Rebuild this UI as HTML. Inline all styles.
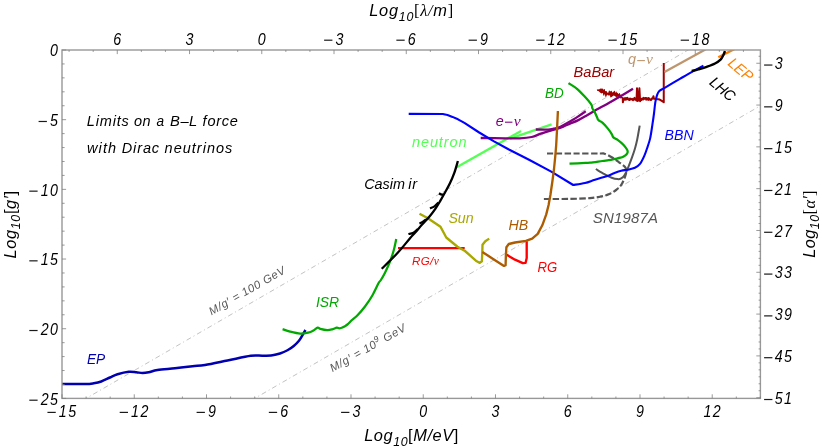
<!DOCTYPE html>
<html><head><meta charset="utf-8"><title>Limits on a B-L force</title>
<style>
html,body{margin:0;padding:0;background:#fff;}
body{width:822px;height:448px;overflow:hidden;font-family:"Liberation Sans",sans-serif;}
svg{display:block;will-change:transform;}
text{font-family:"Liberation Sans",sans-serif;}
</style></head><body>
<svg width="822" height="448" viewBox="0 0 822 448">
<rect x="0" y="0" width="822" height="448" fill="#fff"/>
<defs><clipPath id="fr"><rect x="62.0" y="50.0" width="698.4" height="348.4"/></clipPath></defs>

<g clip-path="url(#fr)">
<line x1="62.00" y1="412.34" x2="712.23" y2="36.06" stroke="#909090" stroke-width="0.55" stroke-dasharray="5 3 1 3"/>
<line x1="230.58" y1="412.34" x2="784.48" y2="91.81" stroke="#909090" stroke-width="0.55" stroke-dasharray="5 3 1 3"/>
<path d="M61.50,384.00 C65.42,384.00 79.62,384.12 85.00,384.00 C90.38,383.88 91.04,383.67 93.75,383.25 C96.46,382.83 98.54,382.46 101.25,381.50 C103.96,380.54 107.29,378.71 110.00,377.50 C112.71,376.29 114.38,375.21 117.50,374.25 C120.62,373.29 125.62,372.08 128.75,371.75 C131.88,371.42 133.96,372.04 136.25,372.25 C138.54,372.46 140.42,373.00 142.50,373.00 C144.58,373.00 146.25,372.75 148.75,372.25 C151.25,371.75 153.12,370.67 157.50,370.00 C161.88,369.33 169.17,368.88 175.00,368.25 C180.83,367.62 187.50,366.79 192.50,366.25 C197.50,365.71 199.17,365.96 205.00,365.00 C210.83,364.04 219.88,362.04 227.50,360.50 C235.12,358.96 244.92,356.54 250.75,355.75 C256.58,354.96 258.88,355.83 262.50,355.75 C266.12,355.67 269.58,355.62 272.50,355.25 C275.42,354.88 277.50,354.33 280.00,353.50 C282.50,352.67 285.21,351.50 287.50,350.25 C289.79,349.00 291.88,347.54 293.75,346.00 C295.62,344.46 297.38,342.67 298.75,341.00 C300.12,339.33 300.88,337.83 302.00,336.00 C303.12,334.17 304.92,331.00 305.50,330.00" fill="none" stroke="#0000B0" stroke-width="2.5" stroke-linejoin="round" stroke-linecap="butt" />
<path d="M282.60,329.10 C283.85,329.52 287.17,330.85 290.10,331.60 C293.03,332.35 297.18,333.43 300.20,333.60 C303.22,333.77 306.03,333.10 308.20,332.60 C310.37,332.10 311.62,331.43 313.20,330.60 C314.78,329.77 316.52,327.88 317.70,327.60 C318.88,327.32 318.70,328.48 320.30,328.90 C321.90,329.32 325.30,330.03 327.30,330.10 C329.30,330.17 330.72,329.72 332.30,329.30 C333.88,328.88 335.63,327.77 336.80,327.60 C337.97,327.43 338.37,328.30 339.30,328.30 C340.23,328.30 341.05,328.23 342.40,327.60 C343.75,326.97 345.80,325.77 347.40,324.50 C349.00,323.23 350.32,321.54 352.00,320.00 C353.68,318.46 355.33,317.50 357.50,315.25 C359.67,313.00 362.50,309.83 365.00,306.50 C367.50,303.17 370.21,299.21 372.50,295.25 C374.79,291.29 377.38,285.25 378.75,282.75 C380.12,280.25 379.71,281.92 380.75,280.25 C381.79,278.58 383.46,275.88 385.00,272.75 C386.54,269.62 388.54,265.25 390.00,261.50 C391.46,257.75 392.71,254.00 393.75,250.25 C394.79,246.50 395.83,240.88 396.25,239.00" fill="none" stroke="#00A800" stroke-width="2.25" stroke-linejoin="round" stroke-linecap="butt" />
<path d="M398.00,248.10 L464.70,248.10" fill="none" stroke="#FF0000" stroke-width="2.2" stroke-linejoin="round" stroke-linecap="butt" />
<path d="M419.50,213.75 L427.50,218.00 L440.50,226.75 L446.25,237.50 L457.50,246.75 L465.00,251.00 L476.70,261.30 L479.80,262.90 L481.90,261.30 L482.30,252.00 L482.50,244.80 L485.30,241.25 L489.20,238.60" fill="none" stroke="#A8A800" stroke-width="2.35" stroke-linejoin="round" stroke-linecap="butt" />
<path d="M505.80,254.20 L515.00,259.70 L522.80,263.10 L525.60,262.80 L526.70,258.10 L526.70,241.25" fill="none" stroke="#FF0000" stroke-width="2.35" stroke-linejoin="round" stroke-linecap="butt" />
<path d="M456.25,167.50 L521.00,130.90" fill="none" stroke="#55FF55" stroke-width="2.3" stroke-linejoin="round" stroke-linecap="butt" />
<path d="M510.00,138.60 L551.60,124.30" fill="none" stroke="#55FF55" stroke-width="2.3" stroke-linejoin="round" stroke-linecap="butt" />
<path d="M597.30,89.49 L597.80,90.33 L598.30,89.84 L598.80,90.70 L599.30,89.84 L599.80,91.61 L600.30,89.10 L600.80,92.43 L601.30,89.04 L601.80,92.85 L602.30,89.10 L602.80,92.49 L603.30,90.21 L603.80,95.00 L604.30,89.73 L604.80,93.69 L605.30,91.54 L605.80,96.17 L606.30,91.74 L606.80,94.85 L607.30,93.13 L607.80,94.08 L608.30,93.04 L608.80,95.01 L609.30,91.23 L609.80,94.67 L610.30,91.77 L610.80,96.80 L611.30,91.48 L611.80,96.25 L612.30,92.89 L612.80,95.73 L613.30,92.69 L613.80,94.90 L614.30,91.32 L614.80,95.40 L615.30,93.22 L615.80,96.18 L616.30,92.55 L616.80,96.76 L617.30,93.32 L617.80,96.18 L618.30,94.53 L618.80,97.28 L619.30,93.64 L619.80,97.17 L620.30,95.02 L620.80,97.96 L621.30,96.17 L621.80,97.46 L622.30,97.17" fill="none" stroke="#A00000" stroke-width="1.25" stroke-linejoin="round" stroke-linecap="butt" />
<path d="M622.30,97.17 L622.70,98.00 L622.90,102.30 L623.40,99.00 L624.50,99.60 L625.00,98.01 L625.50,98.79 L626.00,99.67 L626.50,98.10 L627.00,98.97 L627.50,97.80 L628.00,99.44 L628.50,99.69 L629.00,99.19 L629.50,99.98 L630.00,98.52 L630.50,99.51 L631.00,99.25 L631.50,99.21 L632.00,98.89 L632.50,99.88 L633.00,100.16 L633.50,98.93 L634.00,99.43 L634.50,97.86 L635.00,99.52 L635.50,99.38 L636.50,100.60 L637.00,88.30 L637.70,101.00 L638.60,99.00 L639.40,88.30 L640.10,101.20 L640.70,99.00 L641.20,100.18 L641.70,99.77 L642.20,98.48 L642.70,98.73 L643.20,99.40 L643.70,97.85 L644.20,98.91 L644.70,98.20 L645.20,98.08 L645.70,97.94 L646.20,99.64 L646.70,98.11 L647.20,98.39 L647.70,98.74 L648.20,99.89 L648.70,97.99 L649.20,98.88 L649.70,99.12 L650.20,99.92 L650.70,99.77 L651.20,99.87 L651.70,98.47 L652.20,98.80 L652.70,98.66 L653.40,96.20 L654.00,98.80 L656.25,98.90 L659.70,99.60 L662.20,101.20 L663.75,102.30 L663.75,63.00" fill="none" stroke="#A00000" stroke-width="2.0" stroke-linejoin="round" stroke-linecap="butt" />
<path d="M480.70,138.00 C484.75,138.05 498.45,138.25 505.00,138.30 C511.55,138.35 515.55,138.52 520.00,138.30 C524.45,138.08 528.37,137.73 531.70,137.00 C535.03,136.27 537.28,134.85 540.00,133.90 C542.72,132.95 545.22,132.13 548.00,131.30 C550.78,130.47 554.15,129.68 556.70,128.90 C559.25,128.12 561.08,127.47 563.30,126.60 C565.52,125.73 567.50,124.78 570.00,123.70 C572.50,122.62 575.52,121.48 578.30,120.10 C581.08,118.72 583.63,117.17 586.70,115.40 C589.77,113.63 593.37,111.37 596.70,109.50 C600.03,107.63 602.82,106.37 606.70,104.20 C610.58,102.03 615.62,99.08 620.00,96.50 C624.38,93.92 630.83,90.04 633.00,88.75" fill="none" stroke="#800080" stroke-width="2.3" stroke-linejoin="round" stroke-linecap="butt" />
<path d="M535.80,129.50 C537.00,129.52 540.63,129.62 543.00,129.60 C545.37,129.58 547.45,129.73 550.00,129.40 C552.55,129.07 555.80,128.47 558.30,127.60 C560.80,126.73 562.77,125.40 565.00,124.20 C567.23,123.00 569.48,121.70 571.70,120.40 C573.92,119.10 575.95,117.92 578.30,116.40 C580.65,114.88 584.55,112.15 585.80,111.30" fill="none" stroke="#800080" stroke-width="2.3" stroke-linejoin="round" stroke-linecap="butt" />
<path d="M568.50,83.10 C569.92,84.05 574.18,86.43 577.00,88.80 C579.82,91.17 583.12,94.83 585.40,97.30 C587.68,99.77 589.60,102.12 590.70,103.60 C591.80,105.08 591.72,105.40 592.00,106.20 C592.28,107.00 591.90,107.32 592.40,108.40 C592.90,109.48 594.22,111.20 595.00,112.70 C595.78,114.20 596.60,116.25 597.10,117.40 C597.60,118.55 597.62,119.03 598.00,119.60 C598.38,120.17 598.67,120.28 599.40,120.80 C600.13,121.32 601.02,121.43 602.40,122.70 C603.78,123.97 606.12,126.47 607.70,128.40 C609.28,130.33 611.05,132.93 611.90,134.30 C612.75,135.67 612.42,135.98 612.80,136.60 C613.18,137.22 613.28,137.38 614.20,138.00 C615.12,138.62 616.73,139.15 618.30,140.30 C619.87,141.45 622.15,143.37 623.60,144.90 C625.05,146.43 626.32,148.35 627.00,149.50 C627.68,150.65 627.77,151.02 627.70,151.80 C627.63,152.58 627.28,153.43 626.60,154.20 C625.92,154.97 624.63,155.82 623.60,156.40 C622.57,156.98 621.82,157.28 620.40,157.70 C618.98,158.12 617.03,158.48 615.10,158.90 C613.17,159.32 610.92,159.85 608.80,160.20 C606.68,160.55 605.53,160.58 602.40,161.00 C599.27,161.42 592.83,162.38 590.00,162.70 C587.17,163.02 588.82,162.73 585.40,162.90 C581.98,163.07 572.15,163.57 569.50,163.70" fill="none" stroke="#00A800" stroke-width="2.25" stroke-linejoin="round" stroke-linecap="butt" />
<path d="M639.70,125.60 C639.27,128.00 637.90,136.15 637.10,140.00 C636.30,143.85 635.75,145.80 634.90,148.70 C634.05,151.60 633.08,154.38 632.00,157.40 C630.92,160.42 629.60,163.90 628.40,166.80 C627.20,169.70 626.00,172.87 624.80,174.80 C623.60,176.73 622.42,177.68 621.20,178.40 C619.98,179.12 619.08,179.22 617.50,179.10 C615.92,178.98 613.87,178.53 611.70,177.70 C609.53,176.87 607.15,175.55 604.50,174.10 C601.85,172.65 597.25,169.85 595.80,169.00" fill="none" stroke="#555555" stroke-width="2.0" stroke-linejoin="round" stroke-linecap="butt" />
<path d="M547.00,153.50 C551.67,153.50 566.17,153.50 575.00,153.50 C583.83,153.50 595.08,153.47 600.00,153.50 C604.92,153.53 602.55,153.08 604.50,153.70 C606.45,154.32 609.28,155.77 611.70,157.20 C614.12,158.63 616.82,160.70 619.00,162.30 C621.18,163.90 623.57,165.43 624.80,166.80 C626.03,168.17 626.27,169.13 626.40,170.50 C626.53,171.87 625.98,173.57 625.60,175.00 C625.22,176.43 624.83,177.45 624.10,179.10 C623.37,180.75 622.53,183.08 621.20,184.90 C619.87,186.72 618.17,188.43 616.10,190.00 C614.03,191.57 611.47,193.18 608.80,194.30 C606.13,195.42 603.23,196.07 600.10,196.70 C596.97,197.33 595.02,197.73 590.00,198.10 C584.98,198.47 577.79,198.75 570.00,198.90 C562.21,199.05 547.71,198.98 543.25,199.00" fill="none" stroke="#555555" stroke-width="2.2" stroke-linejoin="round" stroke-linecap="butt" stroke-dasharray="6.3 2.5"/>
<path d="M408.70,113.90 L442.80,114.00 L447.50,115.00 L452.50,116.90 L458.00,119.30 L464.40,122.80 L479.20,132.50 L494.00,141.40 L508.90,149.50 L530.00,160.30 L551.25,171.60 L573.20,185.00  C575.17,184.67 581.37,183.88 585.00,183.00 C588.63,182.12 590.92,181.00 595.00,179.70 C599.08,178.40 606.33,176.28 609.50,175.20 C612.67,174.12 612.05,173.95 614.00,173.20 C615.95,172.45 618.92,171.28 621.20,170.70 C623.48,170.12 625.42,170.18 627.70,169.70 C629.98,169.22 632.85,168.77 634.90,167.80 C636.95,166.83 638.43,165.88 640.00,163.90 C641.57,161.92 643.03,158.75 644.30,155.90 C645.57,153.05 646.62,149.77 647.60,146.80 C648.58,143.83 649.40,141.78 650.20,138.10 C651.00,134.42 651.77,128.80 652.40,124.70 C653.03,120.60 653.52,117.23 654.00,113.50 C654.48,109.77 654.82,105.28 655.30,102.30 C655.78,99.32 656.27,97.45 656.90,95.60 C657.53,93.75 657.80,92.50 659.10,91.20 C660.40,89.90 661.17,89.90 664.70,87.80 C668.23,85.70 675.75,81.27 680.30,78.60 C684.85,75.93 688.15,73.97 692.00,71.80 C695.85,69.63 701.50,66.63 703.40,65.60" fill="none" stroke="#0000FF" stroke-width="2.1" stroke-linejoin="round"/>
<path d="M482.30,251.90 L493.10,258.90 L504.00,265.90 L505.60,265.20 L505.90,255.00 L506.40,247.20 L508.75,244.00 L515.00,242.50 L525.90,240.90 L532.20,238.60 L537.70,233.90 L542.30,225.30 L546.25,214.40 L548.60,205.00 L550.40,195.00 L552.30,182.00 L553.90,170.00 L555.20,157.00 L556.20,145.00 L557.00,130.00 L557.90,111.00" fill="none" stroke="#AD5C00" stroke-width="2.35" stroke-linejoin="round" stroke-linecap="butt" />
<path d="M664.50,72.00 L705.80,49.30" fill="none" stroke="#BE966E" stroke-width="2.3" stroke-linejoin="round" stroke-linecap="butt" />
<path d="M718.30,57.30 L734.20,49.30" fill="none" stroke="#FF8000" stroke-width="2.4" stroke-linejoin="round" stroke-linecap="butt" />
<path d="M691.70,71.00 C692.80,70.72 695.80,70.00 698.30,69.30 C700.80,68.60 703.92,67.77 706.70,66.80 C709.48,65.83 712.65,64.75 715.00,63.50 C717.35,62.25 719.42,60.68 720.80,59.30 C722.18,57.92 722.60,56.58 723.30,55.20 C724.00,53.82 724.72,51.70 725.00,51.00" fill="none" stroke="#000" stroke-width="2.4" stroke-linejoin="round" stroke-linecap="butt" />
<path d="M381.70,268.80 C384.33,266.17 392.78,258.08 397.50,253.00 C402.22,247.92 407.08,241.67 410.00,238.30 C412.92,234.93 412.98,235.08 415.00,232.80 C417.02,230.52 419.72,227.27 422.10,224.60 C424.48,221.93 427.07,219.47 429.30,216.80 C431.53,214.13 433.72,211.17 435.50,208.60 C437.28,206.03 438.50,203.93 440.00,201.40 C441.50,198.87 442.87,196.37 444.50,193.40 C446.13,190.43 448.17,187.02 449.80,183.60 C451.43,180.18 452.95,176.67 454.30,172.90 C455.65,169.13 457.30,162.98 457.90,161.00" fill="none" stroke="#000" stroke-width="2.3" stroke-linejoin="round" stroke-linecap="butt" />
<path d="M408.40,234.00 C409.25,233.78 411.93,233.53 413.50,232.70 C415.07,231.87 417.08,229.62 417.80,229.00" fill="none" stroke="#000" stroke-width="2.2" stroke-linejoin="round" stroke-linecap="butt" />
<path d="M419.40,223.40 C419.93,223.17 421.50,222.68 422.60,222.00 C423.70,221.32 425.43,219.75 426.00,219.30" fill="none" stroke="#000" stroke-width="2.2" stroke-linejoin="round" stroke-linecap="butt" />
<path d="M430.00,208.40 C430.75,208.05 433.10,207.27 434.50,206.30 C435.90,205.33 437.75,203.22 438.40,202.60" fill="none" stroke="#000" stroke-width="2.2" stroke-linejoin="round" stroke-linecap="butt" />
<path d="M439.00,193.30 C439.33,193.48 440.33,194.18 441.00,194.40 C441.67,194.62 442.67,194.57 443.00,194.60" fill="none" stroke="#000" stroke-width="2.2" stroke-linejoin="round" stroke-linecap="butt" />
</g>
<rect x="62.0" y="50.0" width="698.4" height="348.4" fill="none" stroke="#989898" stroke-width="1.4"/>
<path d="M62.00,398.4 v-4.1 M86.08,398.4 v-1.9 M110.17,398.4 v-1.9 M134.25,398.4 v-4.1 M158.33,398.4 v-1.9 M182.41,398.4 v-1.9 M206.50,398.4 v-4.1 M230.58,398.4 v-1.9 M254.66,398.4 v-1.9 M278.74,398.4 v-4.1 M302.83,398.4 v-1.9 M326.91,398.4 v-1.9 M350.99,398.4 v-4.1 M375.08,398.4 v-1.9 M399.16,398.4 v-1.9 M423.24,398.4 v-4.1 M447.32,398.4 v-1.9 M471.41,398.4 v-1.9 M495.49,398.4 v-4.1 M519.57,398.4 v-1.9 M543.66,398.4 v-1.9 M567.74,398.4 v-4.1 M591.82,398.4 v-1.9 M615.90,398.4 v-1.9 M639.99,398.4 v-4.1 M664.07,398.4 v-1.9 M688.15,398.4 v-1.9 M712.23,398.4 v-4.1 M736.32,398.4 v-1.9 M760.40,398.4 v-1.9 M743.42,50.0 v1.9 M719.34,50.0 v1.9 M695.26,50.0 v4.1 M671.17,50.0 v1.9 M647.09,50.0 v1.9 M623.01,50.0 v4.1 M598.93,50.0 v1.9 M574.84,50.0 v1.9 M550.76,50.0 v4.1 M526.68,50.0 v1.9 M502.59,50.0 v1.9 M478.51,50.0 v4.1 M454.43,50.0 v1.9 M430.35,50.0 v1.9 M406.26,50.0 v4.1 M382.18,50.0 v1.9 M358.10,50.0 v1.9 M334.01,50.0 v4.1 M309.93,50.0 v1.9 M285.85,50.0 v1.9 M261.77,50.0 v4.1 M237.68,50.0 v1.9 M213.60,50.0 v1.9 M189.52,50.0 v4.1 M165.44,50.0 v1.9 M141.35,50.0 v1.9 M117.27,50.0 v4.1 M93.19,50.0 v1.9 M69.10,50.0 v1.9 M62.0,398.40 h4.1 M62.0,384.46 h2.6 M62.0,370.53 h2.6 M62.0,356.59 h2.6 M62.0,342.66 h2.6 M62.0,328.72 h4.1 M62.0,314.78 h2.6 M62.0,300.85 h2.6 M62.0,286.91 h2.6 M62.0,272.98 h2.6 M62.0,259.04 h4.1 M62.0,245.10 h2.6 M62.0,231.17 h2.6 M62.0,217.23 h2.6 M62.0,203.30 h2.6 M62.0,189.36 h4.1 M62.0,175.42 h2.6 M62.0,161.49 h2.6 M62.0,147.55 h2.6 M62.0,133.62 h2.6 M62.0,119.68 h4.1 M62.0,105.74 h2.6 M62.0,91.81 h2.6 M62.0,77.87 h2.6 M62.0,63.94 h2.6 M62.0,50.00 h4.1 M760.4,397.71 h-4.1 M760.4,390.74 h-1.8 M760.4,383.77 h-1.8 M760.4,376.81 h-1.8 M760.4,369.84 h-1.8 M760.4,362.87 h-1.8 M760.4,355.90 h-4.1 M760.4,348.93 h-1.8 M760.4,341.97 h-1.8 M760.4,335.00 h-1.8 M760.4,328.03 h-1.8 M760.4,321.06 h-1.8 M760.4,314.09 h-4.1 M760.4,307.13 h-1.8 M760.4,300.16 h-1.8 M760.4,293.19 h-1.8 M760.4,286.22 h-1.8 M760.4,279.25 h-1.8 M760.4,272.29 h-4.1 M760.4,265.32 h-1.8 M760.4,258.35 h-1.8 M760.4,251.38 h-1.8 M760.4,244.41 h-1.8 M760.4,237.45 h-1.8 M760.4,230.48 h-4.1 M760.4,223.51 h-1.8 M760.4,216.54 h-1.8 M760.4,209.57 h-1.8 M760.4,202.61 h-1.8 M760.4,195.64 h-1.8 M760.4,188.67 h-4.1 M760.4,181.70 h-1.8 M760.4,174.73 h-1.8 M760.4,167.77 h-1.8 M760.4,160.80 h-1.8 M760.4,153.83 h-1.8 M760.4,146.86 h-4.1 M760.4,139.89 h-1.8 M760.4,132.93 h-1.8 M760.4,125.96 h-1.8 M760.4,118.99 h-1.8 M760.4,112.02 h-1.8 M760.4,105.05 h-4.1 M760.4,98.09 h-1.8 M760.4,91.12 h-1.8 M760.4,84.15 h-1.8 M760.4,77.18 h-1.8 M760.4,70.21 h-1.8 M760.4,63.25 h-4.1 M760.4,56.28 h-1.8" stroke="#808080" stroke-width="0.8" fill="none"/>
<line x1="47.45" y1="412.40" x2="55.75" y2="412.40" stroke="#1a1a1a" stroke-width="1.2"/>
<text transform="translate(58.85,416.80) scale(0.9,1)" font-family="Liberation Sans" font-style="italic" font-size="15.8" fill="#000">1</text>
<text transform="translate(68.15,416.80) scale(0.9,1)" font-family="Liberation Sans" font-style="italic" font-size="15.8" fill="#000">5</text>
<line x1="119.70" y1="412.40" x2="128.00" y2="412.40" stroke="#1a1a1a" stroke-width="1.2"/>
<text transform="translate(131.10,416.80) scale(0.9,1)" font-family="Liberation Sans" font-style="italic" font-size="15.8" fill="#000">1</text>
<text transform="translate(140.40,416.80) scale(0.9,1)" font-family="Liberation Sans" font-style="italic" font-size="15.8" fill="#000">2</text>
<line x1="196.60" y1="412.40" x2="204.90" y2="412.40" stroke="#1a1a1a" stroke-width="1.2"/>
<text transform="translate(208.00,416.80) scale(0.9,1)" font-family="Liberation Sans" font-style="italic" font-size="15.8" fill="#000">9</text>
<line x1="268.84" y1="412.40" x2="277.14" y2="412.40" stroke="#1a1a1a" stroke-width="1.2"/>
<text transform="translate(280.24,416.80) scale(0.9,1)" font-family="Liberation Sans" font-style="italic" font-size="15.8" fill="#000">6</text>
<line x1="341.09" y1="412.40" x2="349.39" y2="412.40" stroke="#1a1a1a" stroke-width="1.2"/>
<text transform="translate(352.49,416.80) scale(0.9,1)" font-family="Liberation Sans" font-style="italic" font-size="15.8" fill="#000">3</text>
<text transform="translate(419.14,416.80) scale(0.9,1)" font-family="Liberation Sans" font-style="italic" font-size="15.8" fill="#000">0</text>
<text transform="translate(491.39,416.80) scale(0.9,1)" font-family="Liberation Sans" font-style="italic" font-size="15.8" fill="#000">3</text>
<text transform="translate(563.64,416.80) scale(0.9,1)" font-family="Liberation Sans" font-style="italic" font-size="15.8" fill="#000">6</text>
<text transform="translate(635.89,416.80) scale(0.9,1)" font-family="Liberation Sans" font-style="italic" font-size="15.8" fill="#000">9</text>
<text transform="translate(703.48,416.80) scale(0.9,1)" font-family="Liberation Sans" font-style="italic" font-size="15.8" fill="#000">1</text>
<text transform="translate(712.78,416.80) scale(0.9,1)" font-family="Liberation Sans" font-style="italic" font-size="15.8" fill="#000">2</text>
<text transform="translate(113.17,44.60) scale(0.9,1)" font-family="Liberation Sans" font-style="italic" font-size="15.8" fill="#000">6</text>
<text transform="translate(185.42,44.60) scale(0.9,1)" font-family="Liberation Sans" font-style="italic" font-size="15.8" fill="#000">3</text>
<text transform="translate(257.67,44.60) scale(0.9,1)" font-family="Liberation Sans" font-style="italic" font-size="15.8" fill="#000">0</text>
<line x1="324.11" y1="40.20" x2="332.41" y2="40.20" stroke="#1a1a1a" stroke-width="1.2"/>
<text transform="translate(335.51,44.60) scale(0.9,1)" font-family="Liberation Sans" font-style="italic" font-size="15.8" fill="#000">3</text>
<line x1="396.36" y1="40.20" x2="404.66" y2="40.20" stroke="#1a1a1a" stroke-width="1.2"/>
<text transform="translate(407.76,44.60) scale(0.9,1)" font-family="Liberation Sans" font-style="italic" font-size="15.8" fill="#000">6</text>
<line x1="468.61" y1="40.20" x2="476.91" y2="40.20" stroke="#1a1a1a" stroke-width="1.2"/>
<text transform="translate(480.01,44.60) scale(0.9,1)" font-family="Liberation Sans" font-style="italic" font-size="15.8" fill="#000">9</text>
<line x1="536.21" y1="40.20" x2="544.51" y2="40.20" stroke="#1a1a1a" stroke-width="1.2"/>
<text transform="translate(547.61,44.60) scale(0.9,1)" font-family="Liberation Sans" font-style="italic" font-size="15.8" fill="#000">1</text>
<text transform="translate(556.91,44.60) scale(0.9,1)" font-family="Liberation Sans" font-style="italic" font-size="15.8" fill="#000">2</text>
<line x1="608.46" y1="40.20" x2="616.76" y2="40.20" stroke="#1a1a1a" stroke-width="1.2"/>
<text transform="translate(619.86,44.60) scale(0.9,1)" font-family="Liberation Sans" font-style="italic" font-size="15.8" fill="#000">1</text>
<text transform="translate(629.16,44.60) scale(0.9,1)" font-family="Liberation Sans" font-style="italic" font-size="15.8" fill="#000">5</text>
<line x1="680.71" y1="40.20" x2="689.01" y2="40.20" stroke="#1a1a1a" stroke-width="1.2"/>
<text transform="translate(692.11,44.60) scale(0.9,1)" font-family="Liberation Sans" font-style="italic" font-size="15.8" fill="#000">1</text>
<text transform="translate(701.41,44.60) scale(0.9,1)" font-family="Liberation Sans" font-style="italic" font-size="15.8" fill="#000">8</text>
<text transform="translate(50.00,56.20) scale(0.9,1)" font-family="Liberation Sans" font-style="italic" font-size="15.8" fill="#000">0</text>
<line x1="38.60" y1="121.48" x2="46.90" y2="121.48" stroke="#1a1a1a" stroke-width="1.2"/>
<text transform="translate(50.00,125.88) scale(0.9,1)" font-family="Liberation Sans" font-style="italic" font-size="15.8" fill="#000">5</text>
<line x1="29.30" y1="191.16" x2="37.60" y2="191.16" stroke="#1a1a1a" stroke-width="1.2"/>
<text transform="translate(40.70,195.56) scale(0.9,1)" font-family="Liberation Sans" font-style="italic" font-size="15.8" fill="#000">1</text>
<text transform="translate(50.00,195.56) scale(0.9,1)" font-family="Liberation Sans" font-style="italic" font-size="15.8" fill="#000">0</text>
<line x1="29.30" y1="260.84" x2="37.60" y2="260.84" stroke="#1a1a1a" stroke-width="1.2"/>
<text transform="translate(40.70,265.24) scale(0.9,1)" font-family="Liberation Sans" font-style="italic" font-size="15.8" fill="#000">1</text>
<text transform="translate(50.00,265.24) scale(0.9,1)" font-family="Liberation Sans" font-style="italic" font-size="15.8" fill="#000">5</text>
<line x1="29.30" y1="330.52" x2="37.60" y2="330.52" stroke="#1a1a1a" stroke-width="1.2"/>
<text transform="translate(40.70,334.92) scale(0.9,1)" font-family="Liberation Sans" font-style="italic" font-size="15.8" fill="#000">2</text>
<text transform="translate(50.00,334.92) scale(0.9,1)" font-family="Liberation Sans" font-style="italic" font-size="15.8" fill="#000">0</text>
<line x1="29.30" y1="400.20" x2="37.60" y2="400.20" stroke="#1a1a1a" stroke-width="1.2"/>
<text transform="translate(40.70,404.60) scale(0.9,1)" font-family="Liberation Sans" font-style="italic" font-size="15.8" fill="#000">2</text>
<text transform="translate(50.00,404.60) scale(0.9,1)" font-family="Liberation Sans" font-style="italic" font-size="15.8" fill="#000">5</text>
<line x1="764.10" y1="65.05" x2="772.40" y2="65.05" stroke="#1a1a1a" stroke-width="1.2"/>
<text transform="translate(774.70,69.45) scale(0.9,1)" font-family="Liberation Sans" font-style="italic" font-size="15.8" fill="#000">3</text>
<line x1="764.10" y1="106.85" x2="772.40" y2="106.85" stroke="#1a1a1a" stroke-width="1.2"/>
<text transform="translate(774.70,111.25) scale(0.9,1)" font-family="Liberation Sans" font-style="italic" font-size="15.8" fill="#000">9</text>
<line x1="764.10" y1="148.66" x2="772.40" y2="148.66" stroke="#1a1a1a" stroke-width="1.2"/>
<text transform="translate(774.70,153.06) scale(0.9,1)" font-family="Liberation Sans" font-style="italic" font-size="15.8" fill="#000">1</text>
<text transform="translate(784.00,153.06) scale(0.9,1)" font-family="Liberation Sans" font-style="italic" font-size="15.8" fill="#000">5</text>
<line x1="764.10" y1="190.47" x2="772.40" y2="190.47" stroke="#1a1a1a" stroke-width="1.2"/>
<text transform="translate(774.70,194.87) scale(0.9,1)" font-family="Liberation Sans" font-style="italic" font-size="15.8" fill="#000">2</text>
<text transform="translate(784.00,194.87) scale(0.9,1)" font-family="Liberation Sans" font-style="italic" font-size="15.8" fill="#000">1</text>
<line x1="764.10" y1="232.28" x2="772.40" y2="232.28" stroke="#1a1a1a" stroke-width="1.2"/>
<text transform="translate(774.70,236.68) scale(0.9,1)" font-family="Liberation Sans" font-style="italic" font-size="15.8" fill="#000">2</text>
<text transform="translate(784.00,236.68) scale(0.9,1)" font-family="Liberation Sans" font-style="italic" font-size="15.8" fill="#000">7</text>
<line x1="764.10" y1="274.09" x2="772.40" y2="274.09" stroke="#1a1a1a" stroke-width="1.2"/>
<text transform="translate(774.70,278.49) scale(0.9,1)" font-family="Liberation Sans" font-style="italic" font-size="15.8" fill="#000">3</text>
<text transform="translate(784.00,278.49) scale(0.9,1)" font-family="Liberation Sans" font-style="italic" font-size="15.8" fill="#000">3</text>
<line x1="764.10" y1="315.89" x2="772.40" y2="315.89" stroke="#1a1a1a" stroke-width="1.2"/>
<text transform="translate(774.70,320.29) scale(0.9,1)" font-family="Liberation Sans" font-style="italic" font-size="15.8" fill="#000">3</text>
<text transform="translate(784.00,320.29) scale(0.9,1)" font-family="Liberation Sans" font-style="italic" font-size="15.8" fill="#000">9</text>
<line x1="764.10" y1="357.70" x2="772.40" y2="357.70" stroke="#1a1a1a" stroke-width="1.2"/>
<text transform="translate(774.70,362.10) scale(0.9,1)" font-family="Liberation Sans" font-style="italic" font-size="15.8" fill="#000">4</text>
<text transform="translate(784.00,362.10) scale(0.9,1)" font-family="Liberation Sans" font-style="italic" font-size="15.8" fill="#000">5</text>
<line x1="764.10" y1="399.51" x2="772.40" y2="399.51" stroke="#1a1a1a" stroke-width="1.2"/>
<text transform="translate(774.70,403.91) scale(0.9,1)" font-family="Liberation Sans" font-style="italic" font-size="15.8" fill="#000">5</text>
<text transform="translate(784.00,403.91) scale(0.9,1)" font-family="Liberation Sans" font-style="italic" font-size="15.8" fill="#000">1</text>
<text transform="translate(364.2,441.3) rotate(0)" font-family="Liberation Sans" font-style="italic" font-size="16.4" fill="#000" textLength="94" lengthAdjust="spacing">Log<tspan font-size="12.4" dy="4.4">10</tspan><tspan dy="-4.4"><tspan font-style="normal">[</tspan>M/eV<tspan font-style="normal">]</tspan></tspan></text>
<text transform="translate(369.2,16.2) rotate(0)" font-family="Liberation Sans" font-style="italic" font-size="16.4" fill="#000" textLength="84" lengthAdjust="spacing">Log<tspan font-size="12.4" dy="4.4">10</tspan><tspan dy="-4.4"><tspan font-family="Liberation Serif" font-style="normal">[</tspan><tspan font-family="Liberation Serif" font-style="italic">λ/</tspan>m<tspan font-family="Liberation Serif" font-style="normal">]</tspan></tspan></text>
<text transform="translate(16,258.4) rotate(-90)" font-family="Liberation Sans" font-style="italic" font-size="16.4" fill="#000" textLength="67.5" lengthAdjust="spacing">Log<tspan font-size="12.4" dy="4.4">10</tspan><tspan dy="-4.4"><tspan font-style="normal">[</tspan>g′<tspan font-style="normal">]</tspan></tspan></text>
<text transform="translate(814.9,257.8) rotate(-90)" font-family="Liberation Sans" font-style="italic" font-size="16.4" fill="#000" textLength="67.2" lengthAdjust="spacing">Log<tspan font-size="12.4" dy="4.4">10</tspan><tspan dy="-4.4"><tspan font-family="Liberation Serif" font-style="normal">[</tspan><tspan font-family="Liberation Serif" font-style="italic">α</tspan>′<tspan font-family="Liberation Serif" font-style="normal">]</tspan></tspan></text>
<text x="86.80" y="125.60" font-family="Liberation Sans" font-style="italic" font-size="14.5" fill="#000" text-anchor="start" textLength="42.0" lengthAdjust="spacing" >Limits</text>
<text x="134.00" y="125.60" font-family="Liberation Sans" font-style="italic" font-size="14.5" fill="#000" text-anchor="start" textLength="16.5" lengthAdjust="spacing" >on</text>
<text x="156.50" y="125.60" font-family="Liberation Sans" font-style="italic" font-size="14.5" fill="#000" text-anchor="start" textLength="7.6" lengthAdjust="spacingAndGlyphs" >a</text>
<text x="202.60" y="125.60" font-family="Liberation Sans" font-style="italic" font-size="14.5" fill="#000" text-anchor="start" textLength="35.3" lengthAdjust="spacing" >force</text>
<text x="170.1 180.6 189.1" y="125.6" font-family="Liberation Sans" font-style="italic" font-size="14.8" fill="#000">B–L</text>
<text x="87.00" y="152.90" font-family="Liberation Sans" font-style="italic" font-size="14.5" fill="#000" text-anchor="start" textLength="29.2" lengthAdjust="spacing" >with</text>
<text x="121.70" y="152.90" font-family="Liberation Sans" font-style="italic" font-size="14.5" fill="#000" text-anchor="start" textLength="37.4" lengthAdjust="spacing" >Dirac</text>
<text x="164.60" y="152.90" font-family="Liberation Sans" font-style="italic" font-size="14.5" fill="#000" text-anchor="start" textLength="67.7" lengthAdjust="spacing" >neutrinos</text>
<text x="86.90" y="363.70" font-family="Liberation Sans" font-style="italic" font-size="15.0" fill="#0000B0" text-anchor="start" textLength="18.3" lengthAdjust="spacingAndGlyphs" >EP</text>
<text x="315.90" y="307.40" font-family="Liberation Sans" font-style="italic" font-size="15.0" fill="#00A800" text-anchor="start" textLength="23.2" lengthAdjust="spacingAndGlyphs" >ISR</text>
<text x="364.20" y="188.50" font-family="Liberation Sans" font-style="italic" font-size="14.6" fill="#000" text-anchor="start" textLength="40.8" lengthAdjust="spacingAndGlyphs" >Casim</text>
<text x="408.30" y="188.50" font-family="Liberation Sans" font-style="italic" font-size="14.6" fill="#000" text-anchor="start" textLength="8.8" lengthAdjust="spacing" >ir</text>
<text x="448.40" y="223.00" font-family="Liberation Sans" font-style="italic" font-size="15.0" fill="#A8A800" text-anchor="start" textLength="25.2" lengthAdjust="spacingAndGlyphs" >Sun</text>
<text x="508.60" y="230.00" font-family="Liberation Sans" font-style="italic" font-size="15.0" fill="#AD5C00" text-anchor="start" textLength="19.7" lengthAdjust="spacingAndGlyphs" >HB</text>
<text x="412.00" y="264.60" font-family="Liberation Sans" font-style="italic" font-size="11.5" fill="#FF0000" text-anchor="start" textLength="26.75" lengthAdjust="spacing" >RG/<tspan font-family='Liberation Serif'>ν</tspan></text>
<text x="537.50" y="272.20" font-family="Liberation Sans" font-style="italic" font-size="15.0" fill="#FF0000" text-anchor="start" textLength="19.7" lengthAdjust="spacingAndGlyphs" >RG</text>
<text x="412.00" y="146.60" font-family="Liberation Sans" font-style="italic" font-size="14.5" fill="#55FF55" text-anchor="start" textLength="54.5" lengthAdjust="spacing" >neutron</text>
<text y="125.9" font-family="Liberation Sans" font-style="italic" font-size="14.4" fill="#800080"><tspan x="495.8">e</tspan><tspan x="513.7" font-family="Liberation Serif" font-size="15.5">ν</tspan></text><line x1="505" y1="122.2" x2="512.4" y2="122.2" stroke="#800080" stroke-width="1.1"/>
<text x="545.00" y="97.50" font-family="Liberation Sans" font-style="italic" font-size="15.0" fill="#00A800" text-anchor="start" textLength="18.7" lengthAdjust="spacingAndGlyphs" >BD</text>
<text x="573.60" y="76.70" font-family="Liberation Sans" font-style="italic" font-size="15.0" fill="#A00000" text-anchor="start" textLength="40.6" lengthAdjust="spacingAndGlyphs" >BaBar</text>
<text y="64.2" font-family="Liberation Sans" font-style="italic" font-size="14.4" fill="#BE966E"><tspan x="627.9">q</tspan><tspan x="646.0" font-family="Liberation Serif" font-size="15.5">ν</tspan></text><line x1="637.2" y1="60.6" x2="644.9" y2="60.6" stroke="#BE966E" stroke-width="1.1"/>
<text x="664.60" y="139.60" font-family="Liberation Sans" font-style="italic" font-size="15.0" fill="#0000FF" text-anchor="start" textLength="29.1" lengthAdjust="spacingAndGlyphs" >BBN</text>
<text x="592.70" y="223.10" font-family="Liberation Sans" font-style="italic" font-size="15.0" fill="#555" text-anchor="start" textLength="65.4" lengthAdjust="spacing" >SN1987A</text>
<text x="0" y="0" transform="translate(726.90,64.60) rotate(40)" font-family="Liberation Sans" font-style="italic" font-size="15.0" fill="#FF8000" text-anchor="start" textLength="27.5" lengthAdjust="spacingAndGlyphs" >LEP</text>
<text x="0" y="0" transform="translate(708.40,83.80) rotate(40)" font-family="Liberation Sans" font-style="italic" font-size="15.0" fill="#000" text-anchor="start" textLength="28.5" lengthAdjust="spacingAndGlyphs" >LHC</text>
<text x="0" y="0" transform="translate(211.50,315.40) rotate(-29.8)" font-family="Liberation Sans" font-style="italic" font-size="11.3" fill="#555" text-anchor="start" textLength="86" lengthAdjust="spacing" >M/g′ = 100 GeV</text>
<text x="0" y="0" transform="translate(332.60,372.20) rotate(-29.5)" font-family="Liberation Sans" font-style="italic" font-size="11.4" fill="#555" text-anchor="start" textLength="85" lengthAdjust="spacing" >M/g′ = 10<tspan font-size='8.5' dy='-4.5'>9</tspan><tspan dy='4.5'> GeV</tspan></text>
</svg></body></html>
